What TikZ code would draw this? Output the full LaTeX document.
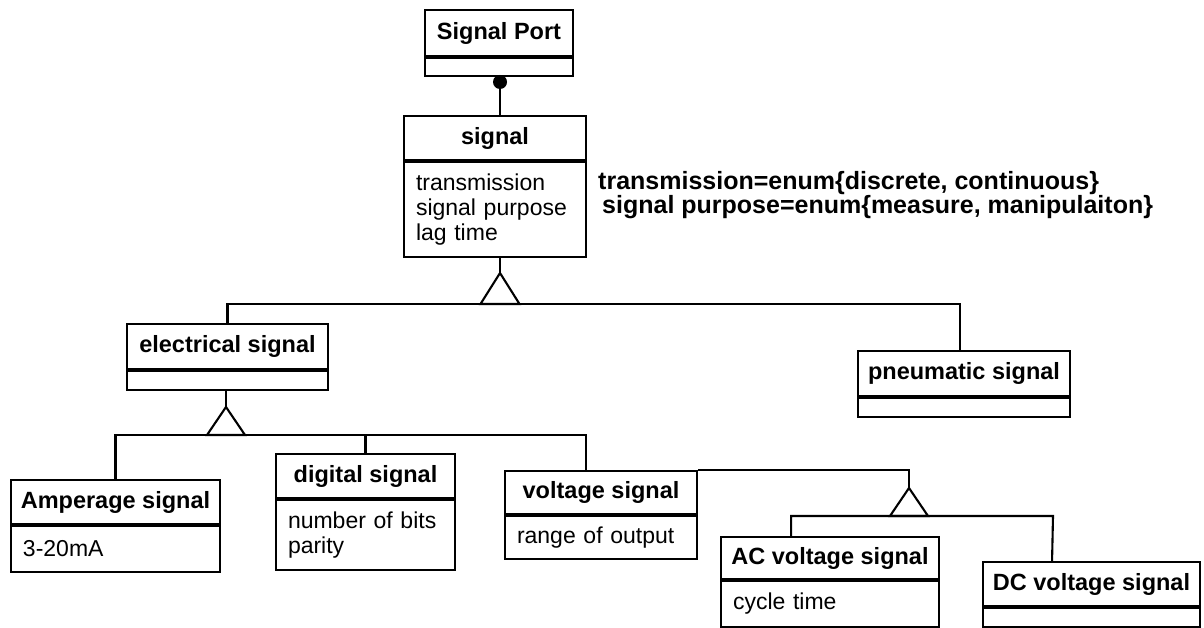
\documentclass[tikz,border=0pt]{standalone}
\usepackage{fontspec}
\setmainfont{Liberation Sans}
\usetikzlibrary{positioning, calc}

\newcommand{\lbl}{\fontsize{23pt}{25pt}\selectfont}
\newcommand{\ttl}{\fontsize{23.5pt}{25pt}\selectfont}

\tikzset{
  clsname/.style={draw, line width=1.9pt, font=\ttl\bfseries, inner sep=0pt},
  clsattr/.style={draw, line width=1.9pt, font=\lbl, anchor=north, align=left,
                  inner xsep=12pt, inner ysep=0pt},
  conn/.style={line width=2.1pt, line join=miter},
  dotnode/.style={circle, fill, inner sep=0pt, minimum size=14pt}
}

\begin{document}
\begin{tikzpicture}[x=1pt, y=-1pt]
        \useasboundingbox (0,0) rectangle (1204,628);

        % Signal Port
        \node[clsname, minimum width=148pt, minimum height=46pt] (port) at (499,33) {Signal Port};
        \node[clsattr, text width=124pt, minimum height=18pt] (portA) at (port.south) {};

        % signal
        \node[clsname, minimum width=182pt, minimum height=44pt] (sig) at (495,138) {signal};
        \node[clsattr, text width=158pt, minimum height=95pt] (sigA) at (sig.south)
             {transmission\\signal purpose\\lag time};
        \node[font=\fontsize{25pt}{23pt}\selectfont\bfseries, anchor=west, align=left, inner sep=0pt] (note) at (598,195)
             {transmission=enum\{discrete, continuous\}\\\hspace*{4pt}signal purpose=enum\{measure, manipulaiton\}};

        % electrical signal / pneumatic signal
        \node[clsname, minimum width=201pt, minimum height=45pt] (elec) at (227.5,346.5) {electrical signal};
        \node[clsattr, text width=177pt, minimum height=19pt] (elecA) at (elec.south) {};
        \node[clsname, minimum width=212pt, minimum height=45pt] (pneu) at (964,373.5) {pneumatic signal};
        \node[clsattr, text width=188pt, minimum height=19pt] (pneuA) at (pneu.south) {};

        % Amperage / digital / voltage signal
        \node[clsname, minimum width=209pt, minimum height=44pt] (amp) at (115.5,502) {Amperage signal};
        \node[clsattr, text width=185pt, minimum height=46pt] (ampA) at (amp.south) {3-20mA};
        \node[clsname, minimum width=179pt, minimum height=44pt] (digi) at (365.5,476) {digital signal};
        \node[clsattr, text width=155pt, minimum height=70pt] (digiA) at (digi.south)
             {number of bits\\parity};
        \node[clsname, minimum width=192pt, minimum height=43pt] (volt) at (601,492.5) {voltage signal};
        \node[clsattr, text width=168pt, minimum height=43pt] (voltA) at (volt.south) {range of output};

        % AC / DC voltage signal
        \node[clsname, minimum width=218pt, minimum height=42pt] (ac) at (830,558) {AC voltage signal};
        \node[clsattr, text width=194pt, minimum height=46pt] (acA) at (ac.south) {cycle time};
        \node[clsname, minimum width=217pt, minimum height=44pt] (dc) at (1091.5,584) {DC voltage signal};
        \node[clsattr, text width=193pt, minimum height=19pt] (dcA) at (dc.south) {};

        % aggregation
        \node[dotnode] (dot) at (500,82) {};
        \draw[conn] (portA.south -| dot) -- (dot) -- (sig.north -| dot);

        % generalization: signal
        \coordinate (t1) at (500,273);
        \coordinate (b1) at (500,304);
        \draw[conn] (sigA.south -| t1) -- (t1);
        \draw[conn] (t1) -- ++(-19.5,31) -- ++(39,0) -- cycle;
        \draw[conn] (elec.north) |- (b1) -| ([xshift=-4pt]pneu.north);

        % generalization: electrical signal
        \coordinate (t2) at (226,407);
        \coordinate (b2) at (226,435);
        \draw[conn] (elecA.south -| t2) -- (t2);
        \draw[conn] (t2) -- ++(-19,28) -- ++(38,0) -- cycle;
        \draw[conn] (amp.north) |- (b2) -| ([xshift=82pt]volt.north west);
        \draw[conn] (digi.north) -- (digi.north |- b2);

        % generalization: voltage signal
        \coordinate (t3) at (909,488);
        \coordinate (b3) at (1053,516);
        \draw[conn] (volt.north east) -| (t3);
        \draw[conn] (t3) -- ++(-19,28) -- ++(38,0) -- cycle;
        \draw[conn] ([xshift=71pt]ac.north west) |- (b3) -- ([xshift=70pt]dc.north west);
\end{tikzpicture}
\end{document}
